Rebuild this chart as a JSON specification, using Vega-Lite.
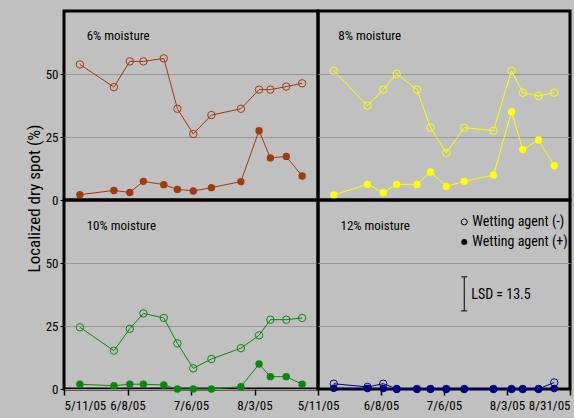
{
  "$schema": "https://vega.github.io/schema/vega-lite/v6.json",
  "background": "#C0C0C0",
  "padding": {"left": 23, "top": 9, "right": 4, "bottom": 4},
  "datasets": {
    "series": [
      {"panel":"6%","agent":"-","date":"2005/05/18","value":53.8},
      {"panel":"6%","agent":"-","date":"2005/06/02","value":44.8},
      {"panel":"6%","agent":"-","date":"2005/06/09","value":55.0},
      {"panel":"6%","agent":"-","date":"2005/06/15","value":55.0},
      {"panel":"6%","agent":"-","date":"2005/06/24","value":56.2},
      {"panel":"6%","agent":"-","date":"2005/06/30","value":36.2},
      {"panel":"6%","agent":"-","date":"2005/07/07","value":26.2},
      {"panel":"6%","agent":"-","date":"2005/07/15","value":33.7},
      {"panel":"6%","agent":"-","date":"2005/07/28","value":36.2},
      {"panel":"6%","agent":"-","date":"2005/08/05","value":43.8},
      {"panel":"6%","agent":"-","date":"2005/08/10","value":43.8},
      {"panel":"6%","agent":"-","date":"2005/08/17","value":45.0},
      {"panel":"6%","agent":"-","date":"2005/08/24","value":46.3},
      {"panel":"6%","agent":"+","date":"2005/05/18","value":2.1},
      {"panel":"6%","agent":"+","date":"2005/06/02","value":3.8},
      {"panel":"6%","agent":"+","date":"2005/06/09","value":3.0},
      {"panel":"6%","agent":"+","date":"2005/06/15","value":7.4},
      {"panel":"6%","agent":"+","date":"2005/06/24","value":6.1},
      {"panel":"6%","agent":"+","date":"2005/06/30","value":4.2},
      {"panel":"6%","agent":"+","date":"2005/07/07","value":3.6},
      {"panel":"6%","agent":"+","date":"2005/07/15","value":4.9},
      {"panel":"6%","agent":"+","date":"2005/07/28","value":7.3},
      {"panel":"6%","agent":"+","date":"2005/08/05","value":27.5},
      {"panel":"6%","agent":"+","date":"2005/08/10","value":16.7},
      {"panel":"6%","agent":"+","date":"2005/08/17","value":17.3},
      {"panel":"6%","agent":"+","date":"2005/08/24","value":9.5},
      {"panel":"8%","agent":"-","date":"2005/05/18","value":51.3},
      {"panel":"8%","agent":"-","date":"2005/06/02","value":37.4},
      {"panel":"8%","agent":"-","date":"2005/06/09","value":43.8},
      {"panel":"8%","agent":"-","date":"2005/06/15","value":50.1},
      {"panel":"8%","agent":"-","date":"2005/06/24","value":43.8},
      {"panel":"8%","agent":"-","date":"2005/06/30","value":28.7},
      {"panel":"8%","agent":"-","date":"2005/07/07","value":18.7},
      {"panel":"8%","agent":"-","date":"2005/07/15","value":28.7},
      {"panel":"8%","agent":"-","date":"2005/07/28","value":27.5},
      {"panel":"8%","agent":"-","date":"2005/08/05","value":51.3},
      {"panel":"8%","agent":"-","date":"2005/08/10","value":42.6},
      {"panel":"8%","agent":"-","date":"2005/08/17","value":41.3},
      {"panel":"8%","agent":"-","date":"2005/08/24","value":42.6},
      {"panel":"8%","agent":"+","date":"2005/05/18","value":2.0},
      {"panel":"8%","agent":"+","date":"2005/06/02","value":6.2},
      {"panel":"8%","agent":"+","date":"2005/06/09","value":3.0},
      {"panel":"8%","agent":"+","date":"2005/06/15","value":6.2},
      {"panel":"8%","agent":"+","date":"2005/06/24","value":6.2},
      {"panel":"8%","agent":"+","date":"2005/06/30","value":11.1},
      {"panel":"8%","agent":"+","date":"2005/07/07","value":5.4},
      {"panel":"8%","agent":"+","date":"2005/07/15","value":7.4},
      {"panel":"8%","agent":"+","date":"2005/07/28","value":9.9},
      {"panel":"8%","agent":"+","date":"2005/08/05","value":35.0},
      {"panel":"8%","agent":"+","date":"2005/08/10","value":20.0},
      {"panel":"8%","agent":"+","date":"2005/08/17","value":23.8},
      {"panel":"8%","agent":"+","date":"2005/08/24","value":13.6},
      {"panel":"10%","agent":"-","date":"2005/05/18","value":24.5},
      {"panel":"10%","agent":"-","date":"2005/06/02","value":15.2},
      {"panel":"10%","agent":"-","date":"2005/06/09","value":23.9},
      {"panel":"10%","agent":"-","date":"2005/06/15","value":30.0},
      {"panel":"10%","agent":"-","date":"2005/06/24","value":28.2},
      {"panel":"10%","agent":"-","date":"2005/06/30","value":18.1},
      {"panel":"10%","agent":"-","date":"2005/07/07","value":8.2},
      {"panel":"10%","agent":"-","date":"2005/07/15","value":11.9},
      {"panel":"10%","agent":"-","date":"2005/07/28","value":16.2},
      {"panel":"10%","agent":"-","date":"2005/08/05","value":21.3},
      {"panel":"10%","agent":"-","date":"2005/08/10","value":27.5},
      {"panel":"10%","agent":"-","date":"2005/08/17","value":27.5},
      {"panel":"10%","agent":"-","date":"2005/08/24","value":28.2},
      {"panel":"10%","agent":"+","date":"2005/05/18","value":1.9},
      {"panel":"10%","agent":"+","date":"2005/06/02","value":1.3},
      {"panel":"10%","agent":"+","date":"2005/06/09","value":1.9},
      {"panel":"10%","agent":"+","date":"2005/06/15","value":1.9},
      {"panel":"10%","agent":"+","date":"2005/06/24","value":1.6},
      {"panel":"10%","agent":"+","date":"2005/06/30","value":0.0},
      {"panel":"10%","agent":"+","date":"2005/07/07","value":0.0},
      {"panel":"10%","agent":"+","date":"2005/07/15","value":0.0},
      {"panel":"10%","agent":"+","date":"2005/07/28","value":0.9},
      {"panel":"10%","agent":"+","date":"2005/08/05","value":9.9},
      {"panel":"10%","agent":"+","date":"2005/08/10","value":4.9},
      {"panel":"10%","agent":"+","date":"2005/08/17","value":4.9},
      {"panel":"10%","agent":"+","date":"2005/08/24","value":1.9},
      {"panel":"12%","agent":"-","date":"2005/05/18","value":2.1},
      {"panel":"12%","agent":"-","date":"2005/06/02","value":0.8},
      {"panel":"12%","agent":"-","date":"2005/06/09","value":2.1},
      {"panel":"12%","agent":"-","date":"2005/06/15","value":0.0},
      {"panel":"12%","agent":"-","date":"2005/06/24","value":0.0},
      {"panel":"12%","agent":"-","date":"2005/06/30","value":0.0},
      {"panel":"12%","agent":"-","date":"2005/07/07","value":0.0},
      {"panel":"12%","agent":"-","date":"2005/07/15","value":0.0},
      {"panel":"12%","agent":"-","date":"2005/07/28","value":0.0},
      {"panel":"12%","agent":"-","date":"2005/08/05","value":0.0},
      {"panel":"12%","agent":"-","date":"2005/08/10","value":0.0},
      {"panel":"12%","agent":"-","date":"2005/08/17","value":0.0},
      {"panel":"12%","agent":"-","date":"2005/08/24","value":2.6},
      {"panel":"12%","agent":"+","date":"2005/05/18","value":0.3},
      {"panel":"12%","agent":"+","date":"2005/06/02","value":0.2},
      {"panel":"12%","agent":"+","date":"2005/06/09","value":0.2},
      {"panel":"12%","agent":"+","date":"2005/06/15","value":0.0},
      {"panel":"12%","agent":"+","date":"2005/06/24","value":0.0},
      {"panel":"12%","agent":"+","date":"2005/06/30","value":0.0},
      {"panel":"12%","agent":"+","date":"2005/07/07","value":0.0},
      {"panel":"12%","agent":"+","date":"2005/07/15","value":0.0},
      {"panel":"12%","agent":"+","date":"2005/07/28","value":0.0},
      {"panel":"12%","agent":"+","date":"2005/08/05","value":0.0},
      {"panel":"12%","agent":"+","date":"2005/08/10","value":0.0},
      {"panel":"12%","agent":"+","date":"2005/08/17","value":0.0},
      {"panel":"12%","agent":"+","date":"2005/08/24","value":0.2}
    ],
    "notes": [
      {"panel":"6%","kind":"title","date":"2005/05/21","value":65,"label":"6% moisture"},
      {"panel":"8%","kind":"title","date":"2005/05/20","value":65,"label":"8% moisture"},
      {"panel":"10%","kind":"title","date":"2005/05/21","value":64.7,"label":"10% moisture"},
      {"panel":"12%","kind":"title","date":"2005/05/21","value":64.7,"label":"12% moisture"},
      {"panel":"12%","kind":"legend-","date":"2005/07/15","value":66.3,"label":"Wetting agent (-)"},
      {"panel":"12%","kind":"legend+","date":"2005/07/15","value":58.3,"label":"Wetting agent (+)"},
      {"panel":"12%","kind":"lsd","date":"2005/07/15","value":37.5,"lo":31,"hi":44.5,"label":"LSD = 13.5"}
    ]
  },
  "spacing": 0,
  "bounds": "flush",
  "columns": 2,
  "concat": [
    {
      "width": 254, "height": 189,
      "encoding": {
        "x": {"field":"date","type":"temporal","scale":{"domain":[{"year":2005,"month":5,"date":11},{"year":2005,"month":8,"date":31}]},"axis":null},
        "y": {"field":"value","type":"quantitative","scale":{"domain":[0,75],"nice":false},
              "axis":{"values":[0,25,50],"tickSize":4,"labelPadding":2,"title":"Localized dry spot (%)","titleX":-21,"titleY":187,"titleFontSize":17}}
      },
      "layer": [
        {"data":{"name":"series"},"transform":[{"filter":"datum.panel=='6%'"}],"mark":{"type":"line","color":"#A33A0A","strokeWidth":1},"encoding":{"detail":{"field":"agent"}}},
        {"data":{"name":"series"},"transform":[{"filter":"datum.panel=='6%' && datum.agent=='-'"}],"mark":{"type":"point","shape":"circle","filled":false,"color":"#A33A0A","size":55,"strokeWidth":1,"opacity":1}},
        {"data":{"name":"series"},"transform":[{"filter":"datum.panel=='6%' && datum.agent=='+'"}],"mark":{"type":"point","shape":"circle","filled":true,"color":"#A33A0A","size":55,"opacity":1}},
        {"data":{"name":"notes"},"transform":[{"filter":"datum.panel=='6%' && datum.kind=='title'"}],"mark":{"type":"text","align":"left","baseline":"middle","fontSize":13,"color":"black"},"encoding":{"text":{"field":"label"}}}
      ]
    },
    {
      "width": 252, "height": 189,
      "encoding": {
        "x": {"field":"date","type":"temporal","scale":{"domain":[{"year":2005,"month":5,"date":11},{"year":2005,"month":8,"date":31}]},"axis":null},
        "y": {"field":"value","type":"quantitative","scale":{"domain":[0,75],"nice":false},
              "axis":{"values":[25,50],"labels":false,"ticks":false,"title":null}}
      },
      "layer": [
        {"data":{"name":"series"},"transform":[{"filter":"datum.panel=='8%'"}],"mark":{"type":"line","color":"#FFFF00","strokeWidth":1},"encoding":{"detail":{"field":"agent"}}},
        {"data":{"name":"series"},"transform":[{"filter":"datum.panel=='8%' && datum.agent=='-'"}],"mark":{"type":"point","shape":"circle","filled":false,"color":"#FFFF00","size":55,"strokeWidth":1,"opacity":1}},
        {"data":{"name":"series"},"transform":[{"filter":"datum.panel=='8%' && datum.agent=='+'"}],"mark":{"type":"point","shape":"circle","filled":true,"color":"#FFFF00","size":55,"opacity":1}},
        {"data":{"name":"notes"},"transform":[{"filter":"datum.panel=='8%' && datum.kind=='title'"}],"mark":{"type":"text","align":"left","baseline":"middle","fontSize":13,"color":"black"},"encoding":{"text":{"field":"label"}}}
      ]
    },
    {
      "width": 254, "height": 189,
      "encoding": {
        "x": {"field":"date","type":"temporal","scale":{"domain":[{"year":2005,"month":5,"date":11},{"year":2005,"month":8,"date":31}]},
              "axis":{"values":[{"year":2005,"month":5,"date":11},{"year":2005,"month":6,"date":8},{"year":2005,"month":7,"date":6},{"year":2005,"month":8,"date":3}],"format":"%-m/%-d/%y","tickSize":6,"tickWidth":1.5,"labelPadding":4,"grid":false,"title":null}},
        "y": {"field":"value","type":"quantitative","scale":{"domain":[0,75],"nice":false},
              "axis":{"values":[0,25,50],"tickSize":4,"labelPadding":2,"title":null}}
      },
      "layer": [
        {"data":{"name":"series"},"transform":[{"filter":"datum.panel=='10%'"}],"mark":{"type":"line","color":"#078A07","strokeWidth":1},"encoding":{"detail":{"field":"agent"}}},
        {"data":{"name":"series"},"transform":[{"filter":"datum.panel=='10%' && datum.agent=='-'"}],"mark":{"type":"point","shape":"circle","filled":false,"color":"#078A07","size":55,"strokeWidth":1,"opacity":1}},
        {"data":{"name":"series"},"transform":[{"filter":"datum.panel=='10%' && datum.agent=='+'"}],"mark":{"type":"point","shape":"circle","filled":true,"color":"#078A07","size":55,"opacity":1}},
        {"data":{"name":"notes"},"transform":[{"filter":"datum.panel=='10%' && datum.kind=='title'"}],"mark":{"type":"text","align":"left","baseline":"middle","fontSize":13,"color":"black"},"encoding":{"text":{"field":"label"}}}
      ]
    },
    {
      "width": 252, "height": 189,
      "encoding": {
        "x": {"field":"date","type":"temporal","scale":{"domain":[{"year":2005,"month":5,"date":11},{"year":2005,"month":8,"date":31}]},
              "axis":{"values":[{"year":2005,"month":5,"date":11},{"year":2005,"month":6,"date":8},{"year":2005,"month":7,"date":6},{"year":2005,"month":8,"date":3},{"year":2005,"month":8,"date":31}],"format":"%-m/%-d/%y","tickSize":6,"tickWidth":1.5,"labelPadding":4,"grid":false,"title":null,
                      "labelAlign":{"condition":{"test":"datum.value > 1125000000000","value":"right"},"value":"center"}}},
        "y": {"field":"value","type":"quantitative","scale":{"domain":[0,75],"nice":false},
              "axis":{"values":[25,50],"labels":false,"ticks":false,"title":null}}
      },
      "layer": [
        {"data":{"name":"series"},"transform":[{"filter":"datum.panel=='12%'"}],"mark":{"type":"line","color":"#000080","strokeWidth":1},"encoding":{"detail":{"field":"agent"}}},
        {"data":{"name":"series"},"transform":[{"filter":"datum.panel=='12%' && datum.agent=='-'"}],"mark":{"type":"point","shape":"circle","filled":false,"color":"#000080","size":55,"strokeWidth":1,"opacity":1}},
        {"data":{"name":"series"},"transform":[{"filter":"datum.panel=='12%' && datum.agent=='+'"}],"mark":{"type":"point","shape":"circle","filled":true,"color":"#000080","size":55,"opacity":1}},
        {"data":{"name":"notes"},"transform":[{"filter":"datum.panel=='12%' && datum.kind=='title'"}],"mark":{"type":"text","align":"left","baseline":"middle","fontSize":13,"color":"black"},"encoding":{"text":{"field":"label"}}},
        {"data":{"name":"notes"},"transform":[{"filter":"datum.kind=='legend-'"}],"mark":{"type":"point","shape":"circle","filled":false,"color":"black","size":36,"strokeWidth":1,"opacity":1}},
        {"data":{"name":"notes"},"transform":[{"filter":"datum.kind=='legend+'"}],"mark":{"type":"point","shape":"circle","filled":true,"color":"black","size":36,"opacity":1}},
        {"data":{"name":"notes"},"transform":[{"filter":"datum.kind=='legend-' || datum.kind=='legend+'"}],"mark":{"type":"text","align":"left","baseline":"middle","dx":8,"fontSize":14,"color":"black"},"encoding":{"text":{"field":"label"}}},
        {"data":{"name":"notes"},"transform":[{"filter":"datum.kind=='lsd'"}],"mark":{"type":"rule","color":"black","strokeWidth":1},"encoding":{"y":{"field":"lo","type":"quantitative"},"y2":{"field":"hi"}}},
        {"data":{"name":"notes"},"transform":[{"filter":"datum.kind=='lsd'"}],"mark":{"type":"tick","orient":"horizontal","color":"black","size":6,"thickness":1,"opacity":1},"encoding":{"y":{"field":"lo","type":"quantitative"}}},
        {"data":{"name":"notes"},"transform":[{"filter":"datum.kind=='lsd'"}],"mark":{"type":"tick","orient":"horizontal","color":"black","size":6,"thickness":1,"opacity":1},"encoding":{"y":{"field":"hi","type":"quantitative"}}},
        {"data":{"name":"notes"},"transform":[{"filter":"datum.kind=='lsd'"}],"mark":{"type":"text","align":"left","baseline":"middle","dx":7,"fontSize":14,"color":"black"},"encoding":{"text":{"field":"label"}}}
      ]
    }
  ],
  "config": {
    "font": "Liberation Sans Narrow, Roboto Condensed, DejaVu Sans Condensed, Arial Narrow, sans-serif",
    "view": {"stroke": "black", "strokeWidth": 3, "fill": null},
    "axis": {"domain": false, "labelFontSize": 13, "labelColor": "black", "tickColor": "black", "gridColor": "#979797", "gridWidth": 1, "titleColor": "black", "titleFontWeight": "normal"},
    "text": {"font": "Liberation Sans Narrow, Roboto Condensed, DejaVu Sans Condensed, Arial Narrow, sans-serif"}
  }
}
